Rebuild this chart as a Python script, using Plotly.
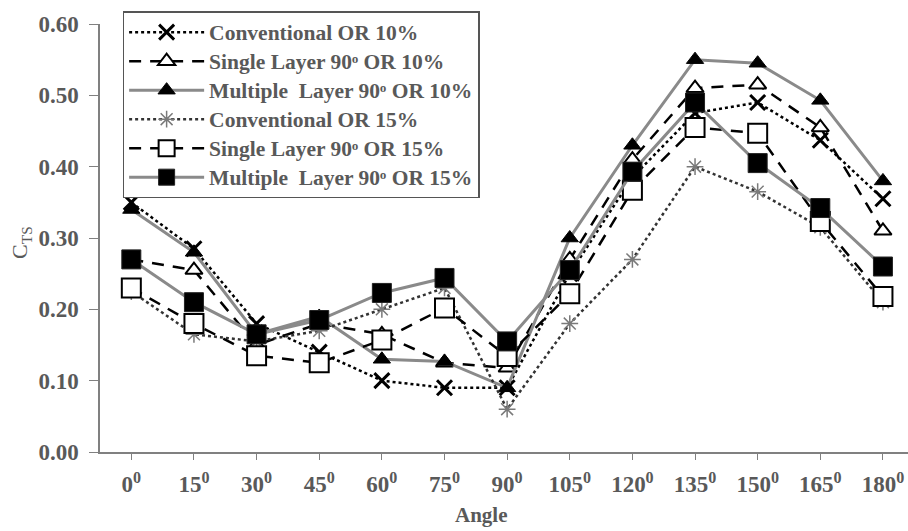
import plotly.graph_objects as go

angles = ["0", "15", "30", "45", "60", "75", "90", "105", "120", "135", "150", "165", "180"]
tick_text = [a + "<sup>0</sup>" for a in angles]

conv10 = [0.35, 0.285, 0.18, 0.14, 0.10, 0.09, 0.09, 0.25, 0.385, 0.475, 0.49, 0.437, 0.355]
single10 = [0.27, 0.255, 0.15, 0.18, 0.165, 0.125, 0.118, 0.27, 0.41, 0.51, 0.515, 0.455, 0.31]
mult10 = [0.34, 0.28, 0.165, 0.19, 0.13, 0.127, 0.09, 0.30, 0.43, 0.55, 0.545, 0.493, 0.38]
conv15 = [0.225, 0.165, 0.155, 0.17, 0.20, 0.23, 0.06, 0.18, 0.27, 0.40, 0.365, 0.315, 0.21]
single15 = [0.23, 0.18, 0.135, 0.125, 0.157, 0.202, 0.134, 0.222, 0.367, 0.455, 0.447, 0.323, 0.218]
mult15 = [0.27, 0.21, 0.165, 0.185, 0.223, 0.244, 0.155, 0.255, 0.393, 0.49, 0.405, 0.342, 0.26]

names = [
    "Conventional OR 10%",
    "Single Layer 90ᵒ OR 10%",
    "Multiple  Layer 90ᵒ OR 10%",
    "Conventional OR 15%",
    "Single Layer 90ᵒ OR 15%",
    "Multiple  Layer 90ᵒ OR 15%",
]

x = list(range(len(angles)))
FONT = "Liberation Serif, Times New Roman, serif"
TXT = "#595959"

fig = go.Figure()

def add(y, name, line, marker):
    fig.add_trace(go.Scatter(x=x, y=y, mode="lines+markers", line=line, marker=marker,
                             name="<span style='font-size:21.5px'>" + name + "</span>"))

add(conv10, names[0], dict(color="black", width=2.5, dash="dot"),
    dict(symbol="x-thin-open", size=15, color="black", line=dict(color="black", width=3)))
add(single10, names[1], dict(color="black", width=2.5, dash="12px,9px"),
    dict(symbol="triangle-up", size=15, color="white", line=dict(color="black", width=2)))
add(mult10, names[2], dict(color="#8a8a8a", width=3),
    dict(symbol="triangle-up", size=15, color="black", line=dict(color="black", width=1)))
add(conv15, names[3], dict(color="#333333", width=2.5, dash="dot"),
    dict(symbol="asterisk-open", size=14, color="#7a7a7a", line=dict(color="#7a7a7a", width=1.5)))
add(single15, names[4], dict(color="black", width=2.5, dash="12px,9px"),
    dict(symbol="square", size=19, color="white", line=dict(color="black", width=2)))
add(mult15, names[5], dict(color="#8a8a8a", width=3),
    dict(symbol="square", size=19, color="black", line=dict(color="#222222", width=1)))

fig.update_layout(
    width=908, height=531,
    margin=dict(l=100, r=0, t=24, b=79),
    paper_bgcolor="white", plot_bgcolor="white",
    font=dict(family=FONT, color=TXT, size=19),
    showlegend=True,
    legend=dict(
        x=0.028, y=1.03, xanchor="left", yanchor="top",
        bgcolor="white", bordercolor="#555555", borderwidth=1.5,
        font=dict(family=FONT, size=20, color=TXT, weight="bold"),
        itemwidth=75, tracegroupgap=0,
    ),
    xaxis=dict(
        range=[-0.5, 12.4], tickmode="array", tickvals=x, ticktext=tick_text,
        showgrid=False, zeroline=False, showline=True, linecolor="#808080", linewidth=1.5,
        ticks="outside", ticklen=6, tickcolor="#808080", ticklabelstandoff=5,
        tickfont=dict(family=FONT, size=23, color=TXT, weight="bold"),
    ),
    yaxis=dict(
        range=[0, 0.6], tickmode="array", tickvals=[0, 0.1, 0.2, 0.3, 0.4, 0.5, 0.6],
        tickformat=".2f",
        showgrid=False, zeroline=False, showline=True, linecolor="#808080", linewidth=1.5,
        ticks="outside", ticklen=9, tickcolor="#808080", ticklabelstandoff=6,
        tickfont=dict(family=FONT, size=23, color=TXT, weight="bold"),
    ),
    annotations=[
        dict(text="Angle", xref="paper", yref="paper", x=(481 - 100) / 808, y=-0.148,
             xanchor="center", yanchor="middle", showarrow=False,
             font=dict(family=FONT, size=21, color=TXT, weight="bold")),
        dict(text="C<sub>TS</sub>", xref="paper", yref="paper", x=-0.097, y=0.49,
             xanchor="center", yanchor="middle", showarrow=False, textangle=-90,
             font=dict(family=FONT, size=22, color=TXT)),
    ],
)

fig.write_html("out.html")
